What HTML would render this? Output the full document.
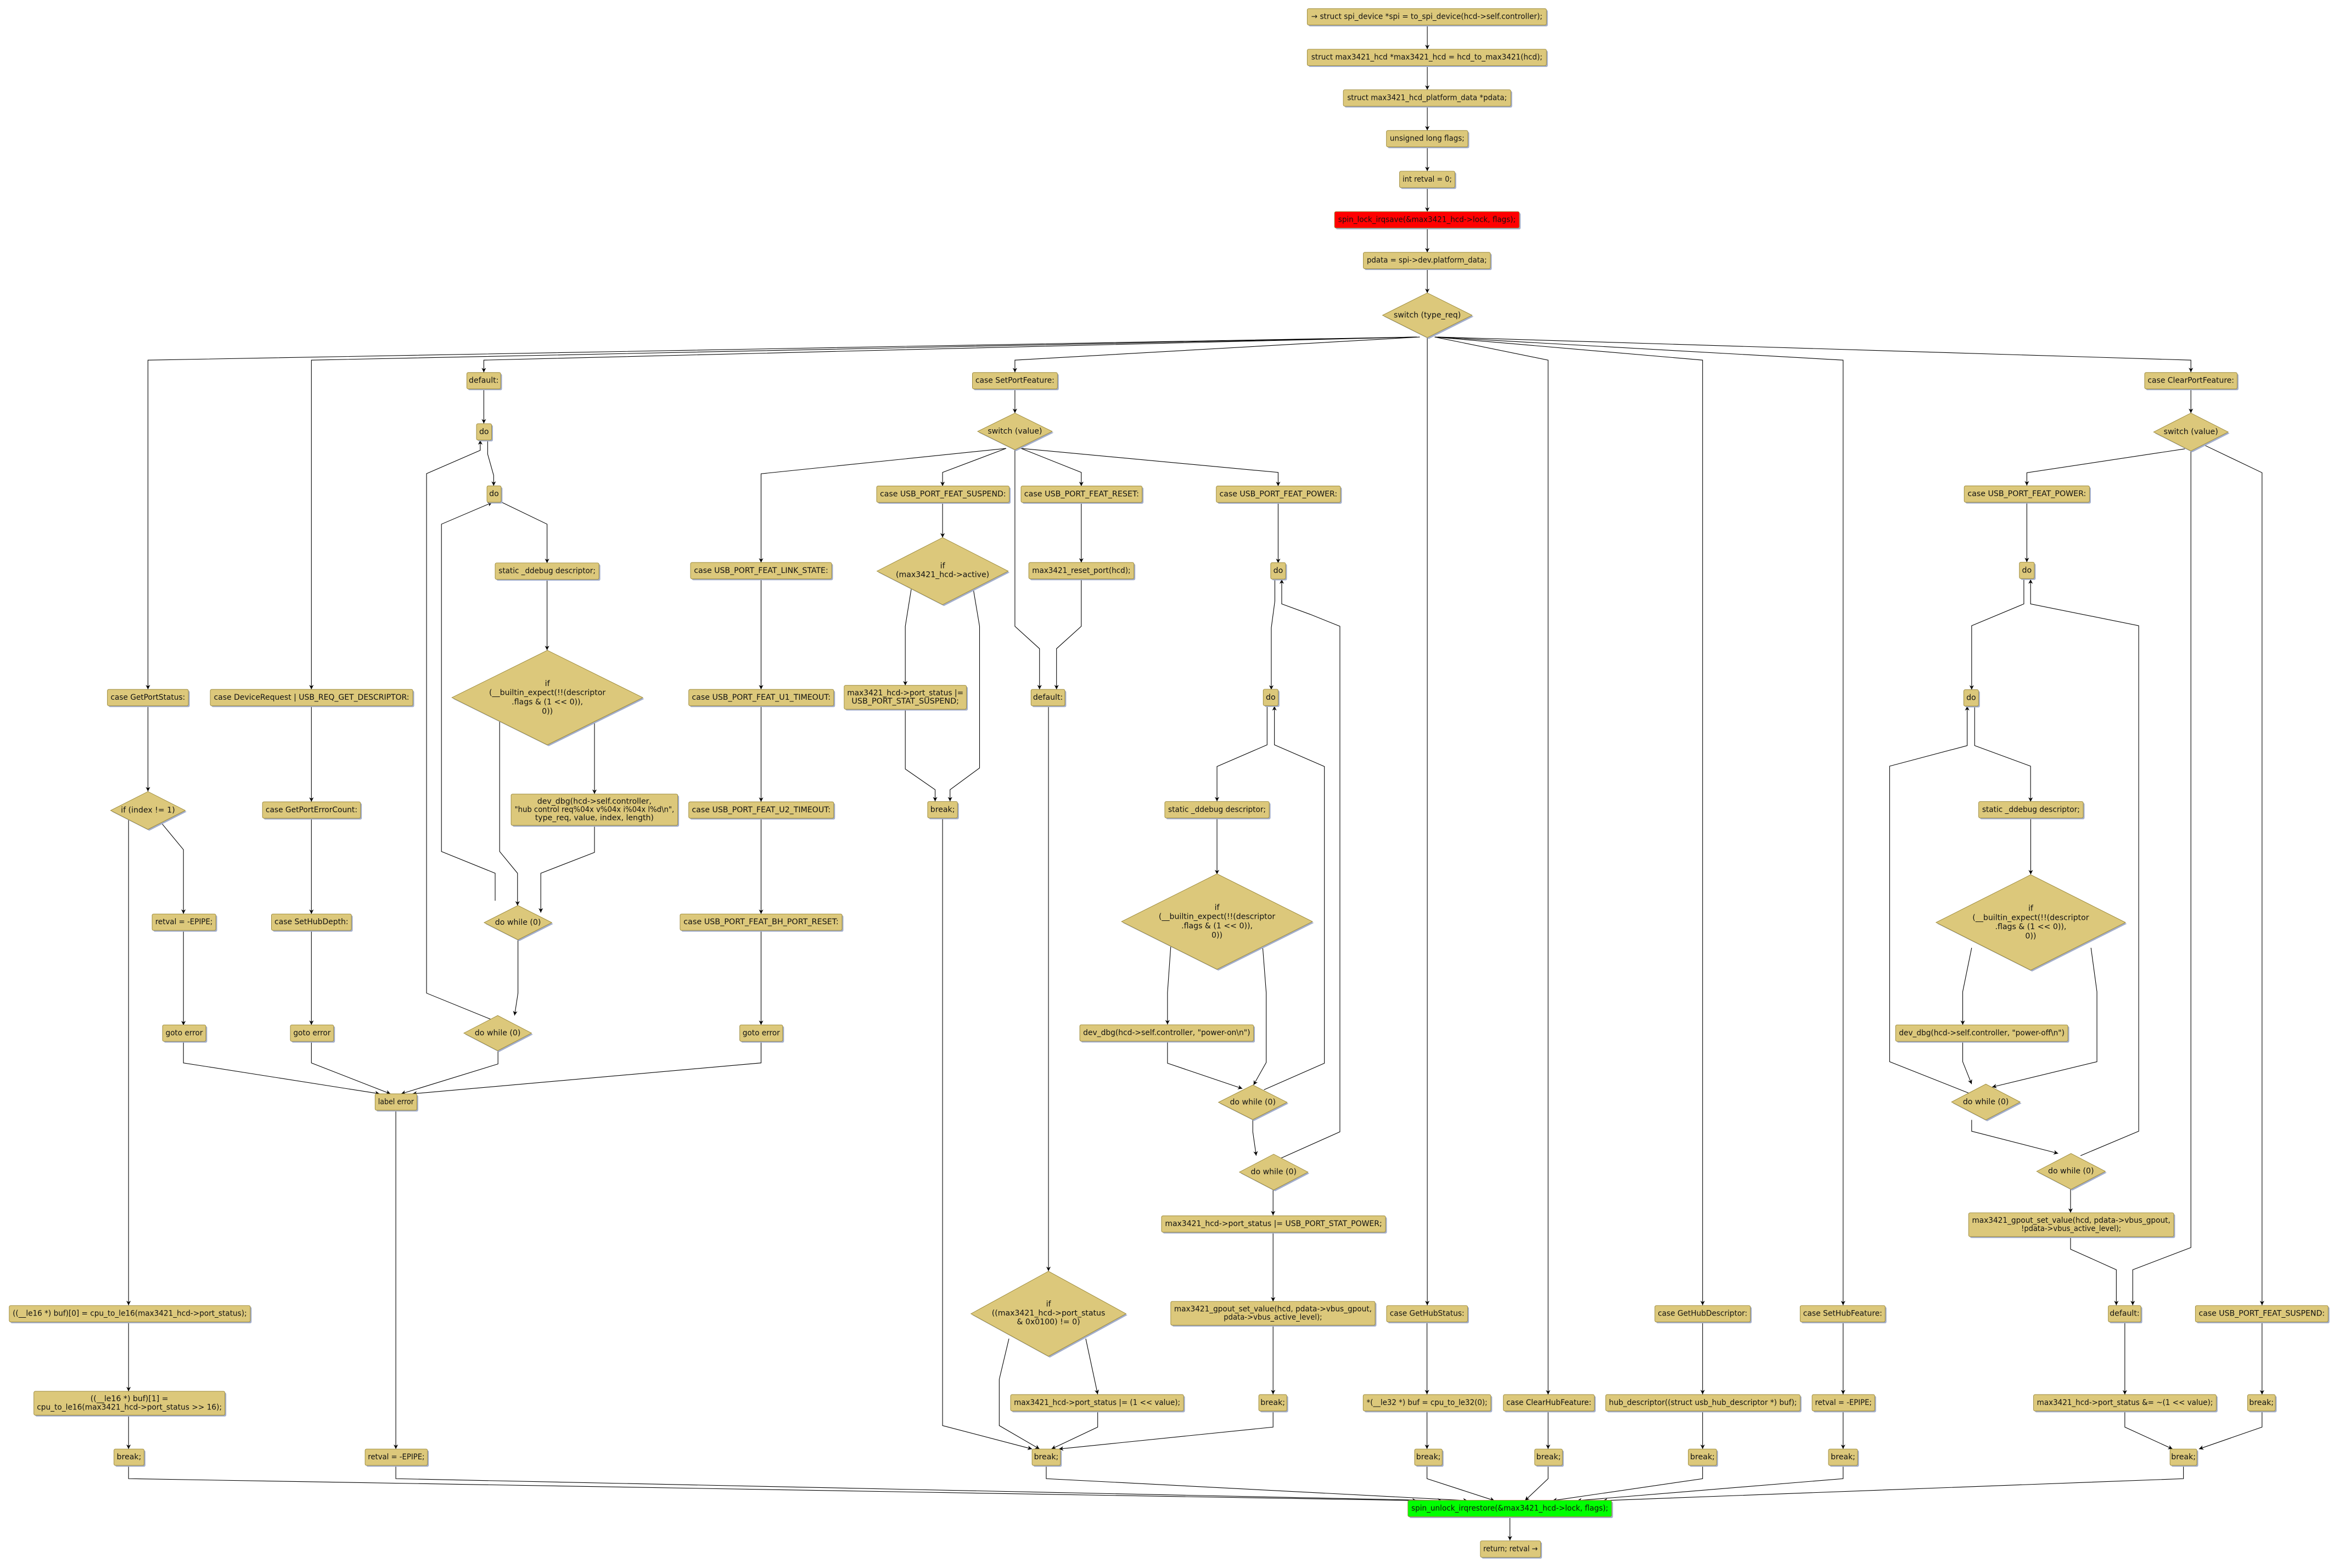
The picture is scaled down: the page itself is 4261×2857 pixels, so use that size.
<!DOCTYPE html>
<html><head><meta charset="utf-8"><style>
html,body{margin:0;padding:0;background:#fff;}
svg{display:block;}
.n{fill:#dcc87b;stroke:#9c8a3c;stroke-width:0.35;}
.r{fill:#ff0000;stroke:#9c8a3c;stroke-width:0.35;}
.g{fill:#00ff00;stroke:#9c8a3c;stroke-width:0.35;}
.sh{fill:#a3aecb;}
text{font-family:"DejaVu Sans","Liberation Sans",sans-serif;font-size:5.2px;fill:#111;text-anchor:middle;dominant-baseline:central;}
.e{fill:none;stroke:#000;stroke-width:0.4;marker-end:url(#a);}
</style></head><body>
<svg width="4261" height="2857" viewBox="0 0 1568.3 1051.5" preserveAspectRatio="none" xmlns="http://www.w3.org/2000/svg">
<defs><marker id="a" viewBox="0 0 10 10" refX="10" refY="5" markerWidth="3" markerHeight="3.4" markerUnits="userSpaceOnUse" orient="auto"><path d="M0,0 L10,5 L0,10 L3,5z" fill="#000"/></marker></defs>

<!-- EDGES -->
<g>
<polyline class="e" points="957,16.8 957,33"/>
<polyline class="e" points="957,44 957,60.2"/>
<polyline class="e" points="957,71.2 957,87.5"/>
<polyline class="e" points="957,98.5 957,114.8"/>
<polyline class="e" points="957,125.7 957,142"/>
<polyline class="e" points="957,152.8 957,169.3"/>
<polyline class="e" points="957,180.2 957,196.5"/>
<polyline class="e" points="950,226 99.2,241.5 99.2,462.3"/>
<polyline class="e" points="950,226 208.8,241.5 208.8,462.3"/>
<polyline class="e" points="950,226 324.4,241.5 324.4,249.7"/>
<polyline class="e" points="952,226 680.5,241.5 680.5,249.7"/>
<polyline class="e" points="957,226.3 957,875.3"/>
<polyline class="e" points="962,226 1038,241.5 1038,935.2"/>
<polyline class="e" points="962,226 1141.6,241.5 1141.6,875.3"/>
<polyline class="e" points="962,226 1235.8,241.5 1235.8,875.3"/>
<polyline class="e" points="964,226 1469,241.5 1469,249.6"/>

<polyline class="e" points="99.2,473.3 99.2,530.7"/>
<polyline class="e" points="86.2,549.5 86.2,875.3"/>
<polyline class="e" points="86.2,886.7 86.2,933"/>
<polyline class="e" points="86.2,949 86.2,971.7"/>
<polyline class="e" points="86.2,982.7 86.2,991.6 950,1006.3"/>
<polyline class="e" points="108.3,552 123,569.8 123,612.8"/>
<polyline class="e" points="123,624 123,687.6"/>
<polyline class="e" points="123,698 123,712.8 254.5,733.5"/>
<polyline class="e" points="208.8,473.3 208.8,537.7"/>
<polyline class="e" points="208.8,548.7 208.8,612.9"/>
<polyline class="e" points="208.8,623.9 208.8,687.3"/>
<polyline class="e" points="208.8,698.3 208.8,712.8 261.8,733.5"/>
<polyline class="e" points="333.9,704.6 333.9,713.5 269,733.5"/>
<polyline class="e" points="510.3,698.3 510.3,712.8 276.5,733.5"/>
<polyline class="e" points="265.4,744.5 265.4,971.7"/>
<polyline class="e" points="265.4,982.7 265.4,991.6 967,1006.3"/>

<polyline class="e" points="324.4,261 324.4,284"/>
<polyline class="e" points="327,295.2 327,304.6 331,318.8 331,325.8"/>
<polyline class="e" points="335.7,336.5 366.8,351.5 366.8,377.6"/>
<polyline class="e" points="366.8,388.4 366.8,436"/>
<polyline class="e" points="335,483.7 335,571 347,585.6 347,607.3"/>
<polyline class="e" points="398.6,483.7 398.6,532.4"/>
<polyline class="e" points="398.6,553.4 398.6,571.6 362.6,585.6 362.6,612"/>
<polyline class="e" points="332,604 332,585.6 296,571 296,351.5 330,337"/>
<polyline class="e" points="347.3,630 347.3,666 345,681"/>
<polyline class="e" points="329,683.5 286,666 286,317.6 322,302 322,295.2"/>

<polyline class="e" points="680.5,261 680.5,277"/>
<polyline class="e" points="674.6,300.7 510.3,317.7 510.3,377.3"/>
<polyline class="e" points="674.6,300.7 632,316.8 632,326"/>
<polyline class="e" points="680.5,301.6 680.5,420 697,435 697,462.3"/>
<polyline class="e" points="684.6,300.7 725,316.8 725,326"/>
<polyline class="e" points="684.6,300.7 857,316.8 857,326"/>
<polyline class="e" points="725,336.8 725,377.3"/>
<polyline class="e" points="725,388 725,420 708.4,435 708.4,462.3"/>
<polyline class="e" points="510.3,388 510.3,462.3"/>
<polyline class="e" points="510.3,473.3 510.3,537.7"/>
<polyline class="e" points="510.3,548.7 510.3,612.9"/>
<polyline class="e" points="510.3,623.9 510.3,687.3"/>
<polyline class="e" points="632,336.8 632,360.5"/>
<polyline class="e" points="611,395 607,420 607,459.7"/>
<polyline class="e" points="652.6,395 656.8,420 656.8,515 637,529.6 637,537.4"/>
<polyline class="e" points="607,475.5 607,515.7 627,529.6 627,537.4"/>
<polyline class="e" points="632,548.4 632,956 692,971.7"/>
<polyline class="e" points="703,473.3 703,852.4"/>
<polyline class="e" points="676.5,897.7 670,925 670,956 697,971.7"/>
<polyline class="e" points="728,897.7 736,935"/>
<polyline class="e" points="736,946.5 736,957 705,971.7"/>
<polyline class="e" points="853.6,946.5 853.6,957 710,971.7"/>
<polyline class="e" points="701.5,982.7 701.5,991.6 984,1006.3"/>

<polyline class="e" points="857,336.8 857,377.6"/>
<polyline class="e" points="854.8,388 854.8,403 852.4,421 852.4,462.5"/>
<polyline class="e" points="859,776.6 898.4,759 898.4,420 878.5,412 859.4,405 859.4,388.5"/>
<polyline class="e" points="849.6,473 849.6,499.5 816,514 816,537.4"/>
<polyline class="e" points="847.5,730.8 888,713 888,514 854.5,499.5 854.5,473.5"/>
<polyline class="e" points="816,548.7 816,586.3"/>
<polyline class="e" points="785,634.7 782.8,665.7 782.8,687"/>
<polyline class="e" points="846.6,634.7 849,665.7 849,712.5 840.5,727.6"/>
<polyline class="e" points="782.8,698.5 782.8,713 833,730"/>
<polyline class="e" points="840,750.8 840,759 842.3,775"/>
<polyline class="e" points="853.6,797.8 853.6,815"/>
<polyline class="e" points="853.6,826.6 853.6,872.8"/>
<polyline class="e" points="853.6,888.6 853.6,935"/>

<polyline class="e" points="956.8,886.7 956.8,935"/>
<polyline class="e" points="956.8,946.5 956.8,971.7"/>
<polyline class="e" points="956.8,982.7 956.8,991.6 1002,1006.3"/>
<polyline class="e" points="1038,946.5 1038,971.7"/>
<polyline class="e" points="1038,982.7 1038,991.6 1022.5,1006.3"/>
<polyline class="e" points="1141.6,886.7 1141.6,935"/>
<polyline class="e" points="1141.6,946.5 1141.6,971.7"/>
<polyline class="e" points="1141.6,982.7 1141.6,991.6 1041,1006.3"/>
<polyline class="e" points="1235.8,886.7 1235.8,935"/>
<polyline class="e" points="1235.8,946.5 1235.8,971.7"/>
<polyline class="e" points="1235.8,982.7 1235.8,991.6 1057.5,1006.3"/>
<polyline class="e" points="1464,982.7 1464,991.6 1074.7,1006.3"/>
<polyline class="e" points="1012.4,1017 1012.4,1033"/>

<polyline class="e" points="1469,260.6 1469,277"/>
<polyline class="e" points="1465,301 1359,317 1359,325.6"/>
<polyline class="e" points="1469,302.4 1469,836.6 1430,851.5 1430,875.3"/>
<polyline class="e" points="1477,298 1516.7,317 1516.7,875.3"/>
<polyline class="e" points="1359,337 1359,377"/>
<polyline class="e" points="1357,388 1357,405 1322,419.6 1322,462.5"/>
<polyline class="e" points="1395,775 1434,758.6 1434,419.6 1361.5,405 1361.5,388.5"/>
<polyline class="e" points="1324,473.5 1324,500 1361.5,513.8 1361.5,537.7"/>
<polyline class="e" points="1320,733 1267,712 1267,513.8 1319,500 1319,473.5"/>
<polyline class="e" points="1361.6,548.4 1361.6,586.4"/>
<polyline class="e" points="1322,635.6 1316,665 1316,687.3"/>
<polyline class="e" points="1402,635.6 1406,665 1406,712 1335.7,729"/>
<polyline class="e" points="1316,698.3 1316,712 1322,727"/>
<polyline class="e" points="1322,751 1322,758.6 1380,773.5"/>
<polyline class="e" points="1388.3,797.6 1388.3,813.3"/>
<polyline class="e" points="1388.3,829.3 1388.3,837.7 1419,851.5 1419,875.3"/>
<polyline class="e" points="1424.7,886.7 1424.7,935.2"/>
<polyline class="e" points="1516.7,886.7 1516.7,935.2"/>
<polyline class="e" points="1424.7,946.5 1424.7,957 1456.7,971.7"/>
<polyline class="e" points="1516.7,946.5 1516.7,957 1474.4,971.7"/>
</g>

<!-- TOP -->
<rect class="sh" x="877.4" y="6.7" width="160.4" height="11" rx="1"/><rect class="n" x="876.5" y="5.8" width="160.4" height="11" rx="1"/><text x="956.7" y="11.3" textLength="155" lengthAdjust="spacingAndGlyphs">→ struct spi_device *spi = to_spi_device(hcd-&gt;self.controller);</text>
<rect class="sh" x="877.4" y="33.9" width="160.4" height="11" rx="1"/><rect class="n" x="876.5" y="33" width="160.4" height="11" rx="1"/><text x="956.7" y="38.5" textLength="155" lengthAdjust="spacingAndGlyphs">struct max3421_hcd *max3421_hcd = hcd_to_max3421(hcd);</text>
<rect class="sh" x="901.6" y="61.1" width="112.3" height="11" rx="1"/><rect class="n" x="900.7" y="60.2" width="112.3" height="11" rx="1"/><text x="956.85" y="65.7" textLength="107" lengthAdjust="spacingAndGlyphs">struct max3421_hcd_platform_data *pdata;</text>
<rect class="sh" x="930.5" y="88.4" width="54.6" height="11" rx="1"/><rect class="n" x="929.6" y="87.5" width="54.6" height="11" rx="1"/><text x="956.9" y="93" textLength="50" lengthAdjust="spacingAndGlyphs">unsigned long flags;</text>
<rect class="sh" x="939.3" y="115.7" width="37.1" height="11" rx="1"/><rect class="n" x="938.4" y="114.8" width="37.1" height="11" rx="1"/><text x="956.95" y="120.3" textLength="33" lengthAdjust="spacingAndGlyphs">int retval = 0;</text>
<rect class="sh" x="895.7" y="142.8" width="123.9" height="11" rx="1"/><rect class="r" x="894.8" y="141.9" width="123.9" height="11" rx="1"/><text x="956.75" y="147.4" textLength="119" lengthAdjust="spacingAndGlyphs">spin_lock_irqsave(&amp;max3421_hcd-&gt;lock, flags);</text>
<rect class="sh" x="915" y="170.1" width="85.2" height="11" rx="1"/><rect class="n" x="914.1" y="169.2" width="85.2" height="11" rx="1"/><text x="956.7" y="174.7" textLength="80.5" lengthAdjust="spacingAndGlyphs">pdata = spi-&gt;dev.platform_data;</text>
<polygon class="sh" points="928,212.3 958,197.3 988,212.3 958,227.3"/><polygon class="n" points="927,211.4 957,196.4 987,211.4 957,226.4"/><text x="957" y="211.4">switch (type_req)</text>

<!-- LEFT -->
<rect class="sh" x="72.9" y="463.2" width="54.3" height="11" rx="1"/><rect class="n" x="72" y="462.3" width="54.3" height="11" rx="1"/><text x="99.15" y="467.8" textLength="50" lengthAdjust="spacingAndGlyphs">case GetPortStatus:</text>
<polygon class="sh" points="75.1,544.4 100.1,531.7 125.1,544.4 100.1,557.1"/><polygon class="n" points="74.2,543.5 99.2,530.8 124.2,543.5 99.2,556.2"/><text x="99.2" y="543.5" font-size="4.8">if (index != 1)</text>
<rect class="sh" x="102.9" y="613.8" width="42.7" height="11" rx="1"/><rect class="n" x="102" y="612.9" width="42.7" height="11" rx="1"/><text x="123.35" y="618.4" textLength="38.5" lengthAdjust="spacingAndGlyphs">retval = -EPIPE;</text>
<rect class="sh" x="109.9" y="688.2" width="29" height="11" rx="1"/><rect class="n" x="109" y="687.3" width="29" height="11" rx="1"/><text x="123.5" y="692.8" textLength="25" lengthAdjust="spacingAndGlyphs">goto error</text>
<rect class="sh" x="7.1" y="876.4" width="161.6" height="11" rx="1"/><rect class="n" x="6.2" y="875.5" width="161.6" height="11" rx="1"/><text x="87" y="881" textLength="157" lengthAdjust="spacingAndGlyphs">((__le16 *) buf)[0] = cpu_to_le16(max3421_hcd-&gt;port_status);</text>
<rect class="sh" x="23.6" y="933.9" width="128.1" height="16" rx="1"/><rect class="n" x="22.7" y="933" width="128.1" height="16" rx="1"/><text x="86.75" y="938.2">((__le16 *) buf)[1] =</text><text x="86.75" y="943.8" textLength="124" lengthAdjust="spacingAndGlyphs">cpu_to_le16(max3421_hcd-&gt;port_status &gt;&gt; 16);</text>
<rect class="sh" x="77.3" y="972.6" width="20.2" height="11" rx="1"/><rect class="n" x="76.4" y="971.7" width="20.2" height="11" rx="1"/><text x="86.5" y="977.2">break;</text>
<rect class="sh" x="141.9" y="463.2" width="135.8" height="11" rx="1"/><rect class="n" x="141" y="462.3" width="135.8" height="11" rx="1"/><text x="208.9" y="467.8" textLength="131" lengthAdjust="spacingAndGlyphs">case DeviceRequest | USB_REQ_GET_DESCRIPTOR:</text>
<rect class="sh" x="176.9" y="538.6" width="65.7" height="11" rx="1"/><rect class="n" x="176" y="537.7" width="65.7" height="11" rx="1"/><text x="208.85" y="543.2" textLength="61.5" lengthAdjust="spacingAndGlyphs">case GetPortErrorCount:</text>
<rect class="sh" x="182.9" y="613.8" width="53.6" height="11" rx="1"/><rect class="n" x="182" y="612.9" width="53.6" height="11" rx="1"/><text x="208.8" y="618.4" textLength="49.5" lengthAdjust="spacingAndGlyphs">case SetHubDepth:</text>
<rect class="sh" x="195.6" y="688.2" width="29" height="11" rx="1"/><rect class="n" x="194.7" y="687.3" width="29" height="11" rx="1"/><text x="209.2" y="692.8" textLength="25" lengthAdjust="spacingAndGlyphs">goto error</text>
<rect class="sh" x="252.4" y="734.4" width="28" height="11" rx="1"/><rect class="n" x="251.5" y="733.5" width="28" height="11" rx="1"/><text x="265.5" y="739" textLength="24" lengthAdjust="spacingAndGlyphs">label error</text>
<rect class="sh" x="245.7" y="972.6" width="41.8" height="11" rx="1"/><rect class="n" x="244.8" y="971.7" width="41.8" height="11" rx="1"/><text x="265.7" y="977.2" textLength="38" lengthAdjust="spacingAndGlyphs">retval = -EPIPE;</text>

<!-- DEFAULT branch -->
<rect class="sh" x="313.9" y="250.7" width="22.7" height="11" rx="1"/><rect class="n" x="313" y="249.8" width="22.7" height="11" rx="1"/><text x="324.35" y="255.3">default:</text>
<rect class="sh" x="320.4" y="285" width="10.1" height="11" rx="1"/><rect class="n" x="319.5" y="284.1" width="10.1" height="11" rx="1"/><text x="324.55" y="289.6">do</text>
<rect class="sh" x="327.4" y="326.7" width="9.5" height="11" rx="1"/><rect class="n" x="326.5" y="325.8" width="9.5" height="11" rx="1"/><text x="331.25" y="331.3">do</text>
<rect class="sh" x="332.9" y="378.4" width="69.6" height="11" rx="1"/><rect class="n" x="332" y="377.5" width="69.6" height="11" rx="1"/><text x="366.8" y="383" textLength="65" lengthAdjust="spacingAndGlyphs">static _ddebug descriptor;</text>
<polygon class="sh" points="303.9,468.7 367.9,437 431.9,468.7 367.9,500.4"/><polygon class="n" points="303,467.8 367,436.1 431,467.8 367,499.5"/>
<text x="367" y="458.5" font-size="4.9">if</text><text x="367" y="464.7" font-size="4.9">(__builtin_expect(!!(descriptor</text><text x="367" y="470.9" font-size="4.9">.flags &amp; (1 &lt;&lt; 0)),</text><text x="367" y="477.1" font-size="4.9">0))</text>
<rect class="sh" x="343.6" y="533.4" width="111.7" height="21" rx="1"/><rect class="n" x="342.7" y="532.5" width="111.7" height="21" rx="1"/>
<text x="398.55" y="537.5" font-size="4.9">dev_dbg(hcd-&gt;self.controller,</text><text x="398.55" y="543" textLength="107" lengthAdjust="spacingAndGlyphs" font-size="4.9">"hub control req%04x v%04x i%04x l%d\n",</text><text x="398.55" y="548.5" font-size="4.9">type_req, value, index, length)</text>
<polygon class="sh" points="325.5,619.6 348.2,608.1 370.9,619.6 348.2,631.1"/><polygon class="n" points="324.6,618.7 347.3,607.2 370,618.7 347.3,630.2"/><text x="347.3" y="618.7" font-size="4.8">do while (0)</text>
<polygon class="sh" points="311.9,693.7 334.6,681.9 357.3,693.7 334.6,705.5"/><polygon class="n" points="311,692.8 333.7,681 356.4,692.8 333.7,704.6"/><text x="333.7" y="692.8" font-size="4.8">do while (0)</text>

<!-- SetPortFeature branch -->
<rect class="sh" x="652.9" y="250.7" width="57" height="11" rx="1"/><rect class="n" x="652" y="249.8" width="57" height="11" rx="1"/><text x="680.5" y="255.3" textLength="53" lengthAdjust="spacingAndGlyphs">case SetPortFeature:</text>
<polygon class="sh" points="656.4,290.2 681.4,277.9 706.4,290.2 681.4,302.5"/><polygon class="n" points="655.5,289.3 680.5,277 705.5,289.3 680.5,301.6"/><text x="680.5" y="289.3" font-size="4.8">switch (value)</text>
<rect class="sh" x="463.9" y="378.1" width="94.6" height="11" rx="1"/><rect class="n" x="463" y="377.2" width="94.6" height="11" rx="1"/><text x="510.3" y="382.7" textLength="90" lengthAdjust="spacingAndGlyphs">case USB_PORT_FEAT_LINK_STATE:</text>
<rect class="sh" x="462.7" y="463.2" width="97.2" height="11" rx="1"/><rect class="n" x="461.8" y="462.3" width="97.2" height="11" rx="1"/><text x="510.4" y="467.8" textLength="93" lengthAdjust="spacingAndGlyphs">case USB_PORT_FEAT_U1_TIMEOUT:</text>
<rect class="sh" x="462.7" y="538.6" width="97.2" height="11" rx="1"/><rect class="n" x="461.8" y="537.7" width="97.2" height="11" rx="1"/><text x="510.4" y="543.2" textLength="93" lengthAdjust="spacingAndGlyphs">case USB_PORT_FEAT_U2_TIMEOUT:</text>
<rect class="sh" x="456.9" y="613.8" width="108.6" height="11" rx="1"/><rect class="n" x="456" y="612.9" width="108.6" height="11" rx="1"/><text x="510.3" y="618.4" textLength="104" lengthAdjust="spacingAndGlyphs">case USB_PORT_FEAT_BH_PORT_RESET:</text>
<rect class="sh" x="496.9" y="688.2" width="28.8" height="11" rx="1"/><rect class="n" x="496" y="687.3" width="28.8" height="11" rx="1"/><text x="510.4" y="692.8" textLength="25" lengthAdjust="spacingAndGlyphs">goto error</text>
<rect class="sh" x="588.7" y="326.8" width="88.9" height="11" rx="1"/><rect class="n" x="587.8" y="325.9" width="88.9" height="11" rx="1"/><text x="632.25" y="331.4" textLength="84.5" lengthAdjust="spacingAndGlyphs">case USB_PORT_FEAT_SUSPEND:</text>
<rect class="sh" x="685.5" y="326.8" width="81.2" height="11" rx="1"/><rect class="n" x="684.6" y="325.9" width="81.2" height="11" rx="1"/><text x="725.2" y="331.4" textLength="77" lengthAdjust="spacingAndGlyphs">case USB_PORT_FEAT_RESET:</text>
<rect class="sh" x="816.4" y="326.8" width="83.3" height="11" rx="1"/><rect class="n" x="815.5" y="325.9" width="83.3" height="11" rx="1"/><text x="857.15" y="331.4" textLength="79" lengthAdjust="spacingAndGlyphs">case USB_PORT_FEAT_POWER:</text>
<rect class="sh" x="690.7" y="378.1" width="70.5" height="11" rx="1"/><rect class="n" x="689.8" y="377.2" width="70.5" height="11" rx="1"/><text x="725.05" y="382.7" textLength="66" lengthAdjust="spacingAndGlyphs">max3421_reset_port(hcd);</text>
<polygon class="sh" points="588.9,383.9 632.9,361.4 676.9,383.9 632.9,406.4"/><polygon class="n" points="588,383 632,360.5 676,383 632,405.5"/><text x="632" y="379.6" font-size="4.9">if</text><text x="632" y="385.6" font-size="4.9">(max3421_hcd-&gt;active)</text>
<rect class="sh" x="566.9" y="460.5" width="82" height="16" rx="1"/><rect class="n" x="566" y="459.6" width="82" height="16" rx="1"/><text x="607" y="464.8" textLength="78" lengthAdjust="spacingAndGlyphs">max3421_hcd-&gt;port_status |=</text><text x="607" y="470.4" textLength="72" lengthAdjust="spacingAndGlyphs">USB_PORT_STAT_SUSPEND;</text>
<rect class="sh" x="622.9" y="538.4" width="20" height="11" rx="1"/><rect class="n" x="622" y="537.5" width="20" height="11" rx="1"/><text x="632" y="543">break;</text>
<rect class="sh" x="692.2" y="463.2" width="22.7" height="11" rx="1"/><rect class="n" x="691.3" y="462.3" width="22.7" height="11" rx="1"/><text x="702.65" y="467.8">default:</text>
<polygon class="sh" points="651.9,881.9 703.9,853.4 755.9,881.9 703.9,910.4"/><polygon class="n" points="651,881 703,852.5 755,881 703,909.5"/><text x="703" y="874.6" font-size="4.9">if</text><text x="703" y="880.7" font-size="4.9">((max3421_hcd-&gt;port_status</text><text x="703" y="886.6" font-size="4.9">&amp; 0x0100) != 0)</text>
<rect class="sh" x="678.5" y="936.1" width="116" height="11" rx="1"/><rect class="n" x="677.6" y="935.2" width="116" height="11" rx="1"/><text x="735.6" y="940.7" textLength="111.5" lengthAdjust="spacingAndGlyphs">max3421_hcd-&gt;port_status |= (1 &lt;&lt; value);</text>
<rect class="sh" x="692.9" y="972.6" width="19" height="11" rx="1"/><rect class="n" x="692" y="971.7" width="19" height="11" rx="1"/><text x="701.5" y="977.2">break;</text>

<!-- POWER branch -->
<rect class="sh" x="852.9" y="378.2" width="10" height="11" rx="1"/><rect class="n" x="852" y="377.3" width="10" height="11" rx="1"/><text x="857" y="382.8">do</text>
<rect class="sh" x="847.9" y="463.1" width="10" height="11" rx="1"/><rect class="n" x="847" y="462.2" width="10" height="11" rx="1"/><text x="852" y="467.7">do</text>
<rect class="sh" x="781.9" y="538.4" width="70" height="11" rx="1"/><rect class="n" x="781" y="537.5" width="70" height="11" rx="1"/><text x="816" y="543" textLength="65.5" lengthAdjust="spacingAndGlyphs">static _ddebug descriptor;</text>
<polygon class="sh" points="752.9,618.9 816.9,586.9 880.9,618.9 816.9,650.9"/><polygon class="n" points="752,618 816,586 880,618 816,650"/>
<text x="816" y="608.7" font-size="4.9">if</text><text x="816" y="614.9" font-size="4.9">(__builtin_expect(!!(descriptor</text><text x="816" y="621.1" font-size="4.9">.flags &amp; (1 &lt;&lt; 0)),</text><text x="816" y="627.3" font-size="4.9">0))</text>
<rect class="sh" x="724.9" y="688.1" width="116.5" height="11" rx="1"/><rect class="n" x="724" y="687.2" width="116.5" height="11" rx="1"/><text x="782.25" y="692.7" textLength="112" lengthAdjust="spacingAndGlyphs">dev_dbg(hcd-&gt;self.controller, "power-on\n")</text>
<polygon class="sh" points="817.9,740.1 840.9,728.5 863.9,740.1 840.9,751.7"/><polygon class="n" points="817,739.2 840,727.6 863,739.2 840,750.8"/><text x="840" y="739.2" font-size="4.8">do while (0)</text>
<polygon class="sh" points="831.9,786.9 854.9,774.9 877.9,786.9 854.9,798.9"/><polygon class="n" points="831,786 854,774 877,786 854,798"/><text x="854" y="786" font-size="4.8">do while (0)</text>
<rect class="sh" x="779.7" y="816.2" width="150.2" height="11" rx="1"/><rect class="n" x="778.8" y="815.3" width="150.2" height="11" rx="1"/><text x="853.9" y="820.8" textLength="145.5" lengthAdjust="spacingAndGlyphs">max3421_hcd-&gt;port_status |= USB_PORT_STAT_POWER;</text>
<rect class="sh" x="785.9" y="873.6" width="137" height="16" rx="1"/><rect class="n" x="785" y="872.7" width="137" height="16" rx="1"/><text x="853.5" y="877.9" textLength="132.5" lengthAdjust="spacingAndGlyphs">max3421_gpout_set_value(hcd, pdata-&gt;vbus_gpout,</text><text x="853.5" y="883.5" textLength="66" lengthAdjust="spacingAndGlyphs">pdata-&gt;vbus_active_level);</text>
<rect class="sh" x="844.9" y="936.1" width="18.8" height="11" rx="1"/><rect class="n" x="844" y="935.2" width="18.8" height="11" rx="1"/><text x="853.4" y="940.7">break;</text>

<!-- RIGHT hub cases -->
<rect class="sh" x="930.6" y="876.4" width="54.3" height="11" rx="1"/><rect class="n" x="929.7" y="875.5" width="54.3" height="11" rx="1"/><text x="956.85" y="881" textLength="50" lengthAdjust="spacingAndGlyphs">case GetHubStatus:</text>
<rect class="sh" x="914.9" y="936.1" width="85.6" height="11" rx="1"/><rect class="n" x="914" y="935.2" width="85.6" height="11" rx="1"/><text x="956.8" y="940.7" textLength="81" lengthAdjust="spacingAndGlyphs">*(__le32 *) buf = cpu_to_le32(0);</text>
<rect class="sh" x="949.4" y="972.6" width="18.5" height="11" rx="1"/><rect class="n" x="948.5" y="971.7" width="18.5" height="11" rx="1"/><text x="957.75" y="977.2">break;</text>
<rect class="sh" x="1008.9" y="936.1" width="61" height="11" rx="1"/><rect class="n" x="1008" y="935.2" width="61" height="11" rx="1"/><text x="1038.5" y="940.7" textLength="57" lengthAdjust="spacingAndGlyphs">case ClearHubFeature:</text>
<rect class="sh" x="1029.9" y="972.6" width="18.6" height="11" rx="1"/><rect class="n" x="1029" y="971.7" width="18.6" height="11" rx="1"/><text x="1038.3" y="977.2">break;</text>
<rect class="sh" x="1110.5" y="876.4" width="64" height="11" rx="1"/><rect class="n" x="1109.6" y="875.5" width="64" height="11" rx="1"/><text x="1141.6" y="881" textLength="60" lengthAdjust="spacingAndGlyphs">case GetHubDescriptor:</text>
<rect class="sh" x="1077.5" y="936.1" width="130.4" height="11" rx="1"/><rect class="n" x="1076.6" y="935.2" width="130.4" height="11" rx="1"/><text x="1141.8" y="940.7" textLength="126" lengthAdjust="spacingAndGlyphs">hub_descriptor((struct usb_hub_descriptor *) buf);</text>
<rect class="sh" x="1132.9" y="972.6" width="19" height="11" rx="1"/><rect class="n" x="1132" y="971.7" width="19" height="11" rx="1"/><text x="1141.5" y="977.2">break;</text>
<rect class="sh" x="1207.9" y="876.4" width="57" height="11" rx="1"/><rect class="n" x="1207" y="875.5" width="57" height="11" rx="1"/><text x="1235.5" y="881" textLength="53" lengthAdjust="spacingAndGlyphs">case SetHubFeature:</text>
<rect class="sh" x="1215.9" y="936.1" width="42" height="11" rx="1"/><rect class="n" x="1215" y="935.2" width="42" height="11" rx="1"/><text x="1236" y="940.7" textLength="38" lengthAdjust="spacingAndGlyphs">retval = -EPIPE;</text>
<rect class="sh" x="1226.9" y="972.6" width="19.5" height="11" rx="1"/><rect class="n" x="1226" y="971.7" width="19.5" height="11" rx="1"/><text x="1235.75" y="977.2">break;</text>

<!-- ClearPortFeature branch -->
<rect class="sh" x="1438.9" y="250.7" width="62" height="11" rx="1"/><rect class="n" x="1438" y="249.8" width="62" height="11" rx="1"/><text x="1469" y="255.3" textLength="58" lengthAdjust="spacingAndGlyphs">case ClearPortFeature:</text>
<polygon class="sh" points="1444.9,290.6 1469.9,277.9 1494.9,290.6 1469.9,303.3"/><polygon class="n" points="1444,289.7 1469,277 1494,289.7 1469,302.4"/><text x="1469" y="289.7" font-size="4.8">switch (value)</text>
<rect class="sh" x="1317.9" y="326.7" width="84" height="11" rx="1"/><rect class="n" x="1317" y="325.8" width="84" height="11" rx="1"/><text x="1359" y="331.3" textLength="79.5" lengthAdjust="spacingAndGlyphs">case USB_PORT_FEAT_POWER:</text>
<rect class="sh" x="1354.9" y="377.9" width="10" height="11" rx="1"/><rect class="n" x="1354" y="377" width="10" height="11" rx="1"/><text x="1359" y="382.5">do</text>
<rect class="sh" x="1317.6" y="463.4" width="9.9" height="11" rx="1"/><rect class="n" x="1316.7" y="462.5" width="9.9" height="11" rx="1"/><text x="1321.65" y="468">do</text>
<rect class="sh" x="1327.6" y="538.4" width="70.1" height="11" rx="1"/><rect class="n" x="1326.7" y="537.5" width="70.1" height="11" rx="1"/><text x="1361.75" y="543" textLength="65.5" lengthAdjust="spacingAndGlyphs">static _ddebug descriptor;</text>
<polygon class="sh" points="1299,619.5 1362.5,587.5 1426,619.5 1362.5,651.5"/><polygon class="n" points="1298.1,618.6 1361.6,586.6 1425.1,618.6 1361.6,650.6"/>
<text x="1361.6" y="609.3" font-size="4.9">if</text><text x="1361.6" y="615.5" font-size="4.9">(__builtin_expect(!!(descriptor</text><text x="1361.6" y="621.7" font-size="4.9">.flags &amp; (1 &lt;&lt; 0)),</text><text x="1361.6" y="627.9" font-size="4.9">0))</text>
<rect class="sh" x="1271.9" y="688.2" width="115.5" height="11" rx="1"/><rect class="n" x="1271" y="687.3" width="115.5" height="11" rx="1"/><text x="1328.75" y="692.8" textLength="111" lengthAdjust="spacingAndGlyphs">dev_dbg(hcd-&gt;self.controller, "power-off\n")</text>
<polygon class="sh" points="1309.4,739.9 1332.4,727.9 1355.4,739.9 1332.4,751.9"/><polygon class="n" points="1308.5,739 1331.5,727 1354.5,739 1331.5,751"/><text x="1331.5" y="739" font-size="4.8">do while (0)</text>
<polygon class="sh" points="1366.5,786.4 1389.5,774.4 1412.5,786.4 1389.5,798.4"/><polygon class="n" points="1365.6,785.5 1388.6,773.5 1411.6,785.5 1388.6,797.5"/><text x="1388.6" y="785.5" font-size="4.8">do while (0)</text>
<rect class="sh" x="1320.9" y="814.2" width="137.5" height="16" rx="1"/><rect class="n" x="1320" y="813.3" width="137.5" height="16" rx="1"/><text x="1388.75" y="818.5" textLength="133" lengthAdjust="spacingAndGlyphs">max3421_gpout_set_value(hcd, pdata-&gt;vbus_gpout,</text><text x="1388.75" y="824.1" textLength="67" lengthAdjust="spacingAndGlyphs">!pdata-&gt;vbus_active_level);</text>
<rect class="sh" x="1414.5" y="876.4" width="21.9" height="11" rx="1"/><rect class="n" x="1413.6" y="875.5" width="21.9" height="11" rx="1"/><text x="1424.55" y="881">default:</text>
<rect class="sh" x="1472.9" y="876.4" width="89" height="11" rx="1"/><rect class="n" x="1472" y="875.5" width="89" height="11" rx="1"/><text x="1516.5" y="881" textLength="84.5" lengthAdjust="spacingAndGlyphs">case USB_PORT_FEAT_SUSPEND:</text>
<rect class="sh" x="1364.4" y="936.1" width="122.5" height="11" rx="1"/><rect class="n" x="1363.5" y="935.2" width="122.5" height="11" rx="1"/><text x="1424.75" y="940.7" textLength="118" lengthAdjust="spacingAndGlyphs">max3421_hcd-&gt;port_status &amp;= ~(1 &lt;&lt; value);</text>
<rect class="sh" x="1507.9" y="936.1" width="18.6" height="11" rx="1"/><rect class="n" x="1507" y="935.2" width="18.6" height="11" rx="1"/><text x="1516.3" y="940.7">break;</text>
<rect class="sh" x="1455.9" y="972.6" width="18" height="11" rx="1"/><rect class="n" x="1455" y="971.7" width="18" height="11" rx="1"/><text x="1464" y="977.2">break;</text>

<!-- BOTTOM -->
<rect class="sh" x="944.9" y="1007" width="136.6" height="11" rx="1"/><rect class="g" x="944" y="1006.1" width="136.6" height="11" rx="1"/><text x="1012.3" y="1011.6" textLength="132" lengthAdjust="spacingAndGlyphs">spin_unlock_irqrestore(&amp;max3421_hcd-&gt;lock, flags);</text>
<rect class="sh" x="993.5" y="1034.2" width="40.4" height="11" rx="1"/><rect class="n" x="992.6" y="1033.3" width="40.4" height="11" rx="1"/><text x="1012.8" y="1038.8" textLength="36.5" lengthAdjust="spacingAndGlyphs">return; retval →</text>
</svg>
</body></html>
